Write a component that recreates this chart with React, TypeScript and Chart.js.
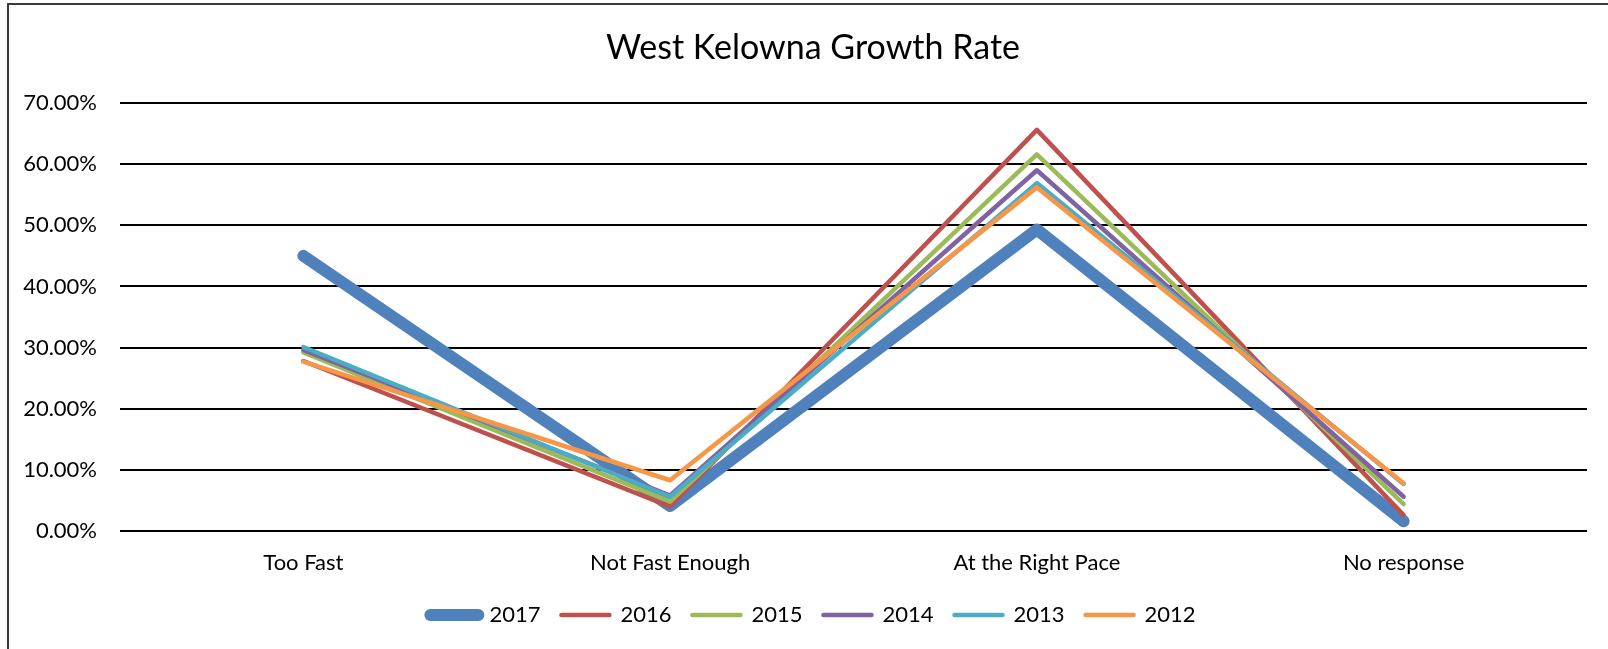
import React, { useEffect, useRef } from "react";
import { Chart, registerables } from "chart.js";

Chart.register(...registerables);

const categories = ["Too Fast", "Not Fast Enough", "At the Right Pace", "No response"];
const seriesLabels = ["2017", "2016", "2015", "2014", "2013", "2012"];
const values2017 = [45.0, 4.1, 49.3, 1.6];
const values2016 = [27.8, 4.0, 65.6, 2.6];
const values2015 = [29.2, 4.8, 61.6, 4.4];
const values2014 = [29.6, 5.8, 59.0, 5.6];
const values2013 = [30.1, 5.6, 56.9, 7.7];
const values2012 = [27.7, 8.3, 56.2, 7.8];
const seriesValues = [values2017, values2016, values2015, values2014, values2013, values2012];
const seriesColors = ["#4F81BD", "#C0504D", "#9BBB59", "#8064A2", "#4BACC6", "#F79646"];
const seriesWidths = [12, 4.5, 4.5, 4.5, 4.5, 4.5];
const yMin = 0;
const yMax = 70;
const yStep = 10;
const titleText = "West Kelowna Growth Rate";

const FONT = "Lato, 'Open Sans', 'Liberation Sans', sans-serif";
const CANVAS_W = 1618;
const CANVAS_H = 649;

const borderPlugin = {
  id: "outerBorder",
  beforeDraw(chart: any) {
    const ctx = chart.ctx;
    ctx.save();
    ctx.fillStyle = "#ffffff";
    ctx.fillRect(0, 0, chart.width, chart.height);
    ctx.strokeStyle = "#3a3a3a";
    ctx.lineWidth = 2;
    ctx.strokeRect(8, 4, 3000, 3000);
    ctx.restore();
  },
};

export default function App() {
  const canvasRef = useRef<HTMLCanvasElement | null>(null);

  useEffect(() => {
    if (!canvasRef.current) return;
    const datasets = seriesLabels.map((label, i) => ({
      label,
      data: seriesValues[i],
      borderColor: seriesColors[i],
      backgroundColor: seriesColors[i],
      borderWidth: seriesWidths[i],
      borderCapStyle: "round" as const,
      borderJoinStyle: "round" as const,
      pointRadius: 0,
      pointHoverRadius: 0,
      pointBorderWidth: seriesWidths[i],
      tension: 0,
      fill: false,
      order: seriesLabels.length - i,
      yAxisID: "y",
    }));

    const chart = new Chart(canvasRef.current, {
      type: "line",
      data: { labels: categories, datasets },
      plugins: [borderPlugin],
      options: {
        responsive: false,
        animation: false,
        devicePixelRatio: 1,
        layout: { padding: { left: 8, right: 0, top: 0, bottom: 13 } },
        plugins: {
          tooltip: { enabled: false },
          title: {
            display: true,
            text: titleText,
            color: "#000",
            font: { family: FONT, size: 34, weight: "normal" },
            padding: { top: 27.6, bottom: 34.6 },
          },
          legend: {
            display: true,
            position: "bottom",
            reverse: true,
            labels: {
              color: "#000",
              font: { family: FONT, size: 22 },
              usePointStyle: true,
              pointStyle: "line",
              pointStyleWidth: 48,
              padding: 21,
              generateLabels(chart: any) {
                const items = Chart.defaults.plugins.legend.labels.generateLabels(chart);
                return items.map((it: any) => ({
                  ...it,
                  lineCap: "round",
                  lineWidth: seriesWidths[it.datasetIndex],
                  strokeStyle: seriesColors[it.datasetIndex],
                  pointStyle: "line",
                }));
              },
            },
          },
        },
        scales: {
          x: {
            offset: true,
            grid: { display: false, drawTicks: false, offset: true },
            border: { display: false },
            ticks: {
              color: "#000",
              font: { family: FONT, size: 22 },
              padding: 19,
              maxRotation: 0,
              autoSkip: false,
            },
            afterFit(scale: any) {
              scale.height = 52;
            },
          },
          y: {
            position: "left",
            min: yMin,
            max: yMax,
            grid: { color: "#000", lineWidth: 2, drawTicks: false },
            border: { display: false },
            ticks: {
              stepSize: yStep,
              color: "#000",
              font: { family: FONT, size: 22 },
              padding: 23,
              callback: (v: any) => Number(v).toFixed(2) + "%",
            },
            afterFit(scale: any) {
              scale.width = 112;
            },
          },
          yRight: {
            position: "right",
            display: true,
            min: yMin,
            max: yMax,
            grid: { display: false, drawTicks: false },
            border: { display: false },
            ticks: { display: false },
            afterFit(scale: any) {
              scale.width = 31;
            },
          },
        },
      },
    });
    return () => chart.destroy();
  }, []);

  return (
    <div style={{ position: "fixed", left: 0, top: 0, width: 1608, height: 649, overflow: "hidden" }}>
      <canvas
        ref={canvasRef}
        width={CANVAS_W}
        height={CANVAS_H}
        style={{ display: "block", width: CANVAS_W, height: CANVAS_H }}
      />
    </div>
  );
}
